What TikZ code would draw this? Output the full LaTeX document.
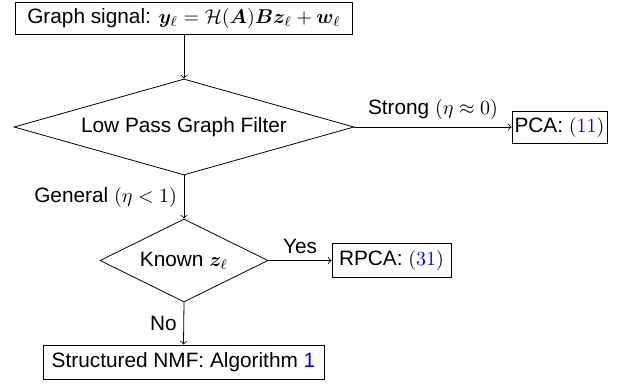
\documentclass[tikz,border=0pt]{standalone}
\usepackage[no-math]{fontspec}
\setmainfont{Liberation Sans}
\usepackage{amsmath,bm}
\usetikzlibrary{shapes.geometric}
\begin{document}
\begin{tikzpicture}[x=0.5pt,y=-0.5pt,
  every node/.style={font=\fontsize{10.4}{12.5}\selectfont},
  box/.style={draw, rectangle, inner sep=0pt},
  dia/.style={draw, diamond, inner sep=0pt},
  arr/.style={->, line width=0.4pt}]
\useasboundingbox (0,0) rectangle (628,386);
\node[box, minimum width=168.5pt, minimum height=16pt] (sig) at (184,18) {Graph signal: $\bm{y}_\ell = \mathcal{H}(\bm{A})\bm{B}\bm{z}_\ell + \bm{w}_\ell$};
\node[dia, aspect=3.54, minimum width=170pt, minimum height=48pt] (lp) at (184,127) {Low Pass Graph Filter};
\node[box, minimum width=47.5pt, minimum height=16pt] (pca) at (559.5,127) {PCA: $(\textcolor{blue}{11})$};
\node[dia, aspect=2.02, minimum width=84pt, minimum height=41.5pt] (kn) at (184,260.5) {Known $\bm{z}_\ell$};
\node[box, minimum width=59.5pt, minimum height=17pt] (rpca) at (391.5,260.5) {RPCA: $(\textcolor{blue}{31})$};
\node[box, minimum width=140.5pt, minimum height=17pt] (nmf) at (183.5,362) {Structured NMF: Algorithm \textcolor{blue}{1}};
\draw[arr] (sig) -- (lp);
\draw[arr] (lp) -- node[above]{Strong $(\eta\approx 0)$} (pca);
\draw[arr] (lp.south) -- node[left]{General $(\eta<1)$} (kn.north);
\draw[arr] (kn) -- node[above]{Yes} (rpca);
\draw[arr] (kn.south) -- node[left]{No} (nmf.north);
\end{tikzpicture}
\end{document}
